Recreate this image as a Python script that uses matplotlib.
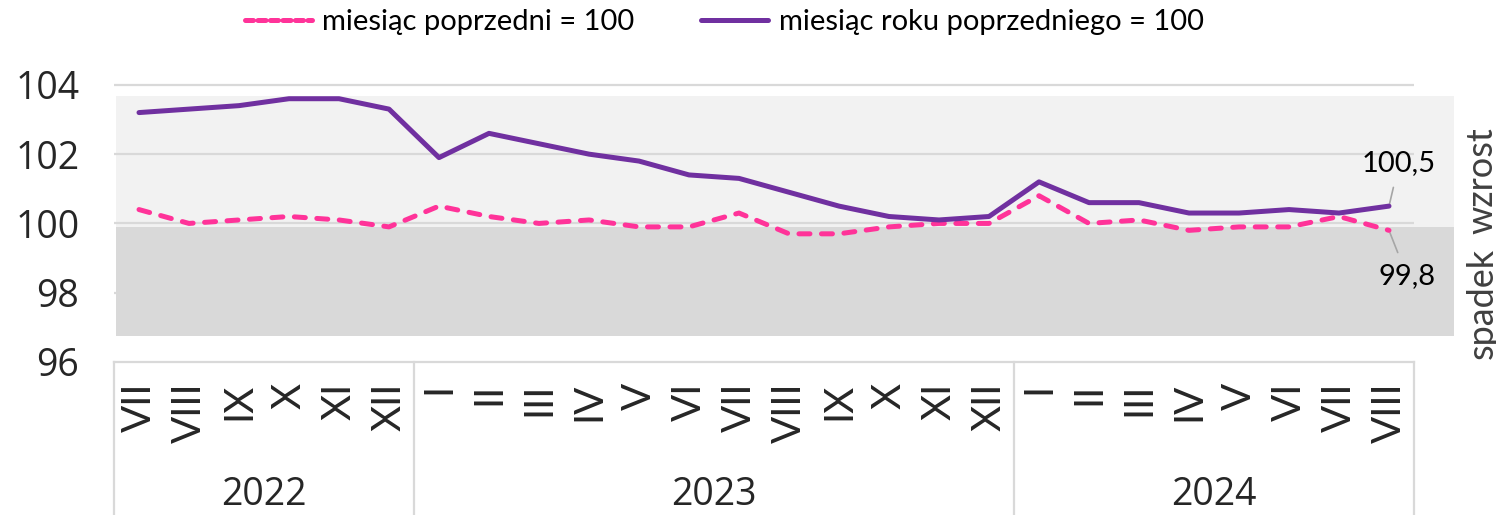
import matplotlib
matplotlib.use("Agg")
import matplotlib.pyplot as plt
from matplotlib.lines import Line2D
import matplotlib.transforms as mtransforms

# --- data ---
months = ["VII", "VIII", "IX", "X", "XI", "XII",
          "I", "II", "III", "IV", "V", "VI", "VII", "VIII", "IX", "X", "XI", "XII",
          "I", "II", "III", "IV", "V", "VI", "VII", "VIII"]
years = ["2022", "2023", "2024"]
months_per_year = [6, 12, 8]

yoy = [103.2, 103.3, 103.4, 103.6, 103.6, 103.3,
       101.9, 102.6, 102.3, 102.0, 101.8, 101.4, 101.3, 100.9, 100.5, 100.2, 100.1, 100.2,
       101.2, 100.6, 100.6, 100.3, 100.3, 100.4, 100.3, 100.5]
mom = [100.4, 100.0, 100.1, 100.2, 100.1, 99.9,
       100.5, 100.2, 100.0, 100.1, 99.9, 99.9, 100.3, 99.7, 99.7, 99.9, 100.0, 100.0,
       100.8, 100.0, 100.1, 99.8, 99.9, 99.9, 100.2, 99.8]

label_mom = "miesiąc poprzedni = 100"
label_yoy = "miesiąc roku poprzedniego = 100"

# background zones (wzrost / spadek)
band_up = (99.9, 103.68)
band_down = (96.75, 99.9)

PINK = "#FF3399"
PURPLE = "#7030A0"
GRID = "#D9D9D9"
TXT = "#262626"

plt.rcParams["font.family"] = ["Lato", "DejaVu Sans"]

W, H = 1496, 515
fig = plt.figure(figsize=(W / 100, H / 100), dpi=100)
ax = fig.add_axes([114 / W, 153 / H, 1340 / W, 291 / H])

n = len(months)
x = list(range(n))
ax.set_xlim(-0.5, 26.3)
ax.set_ylim(96, 104.4)

# bands
ax.fill_between([-0.46, 26.3], band_up[0], band_up[1], color="#F2F2F2", lw=0, zorder=0)
ax.fill_between([-0.46, 26.3], band_down[0], band_down[1], color="#D9D9D9", lw=0, zorder=2)

# grid
ax.hlines([98, 100, 102, 104], -0.5, n - 0.5, color=GRID, lw=1.6, zorder=1)

# series
ax.plot(x, mom, color=PINK, lw=3.6, dashes=(2.2, 2.3), dash_capstyle="round", zorder=4)
ax.plot(x, yoy, color=PURPLE, lw=3.6, solid_capstyle="round", zorder=5)

for s in ax.spines.values():
    s.set_visible(False)

ax.set_yticks([96, 98, 100, 102, 104])
ax.tick_params(axis="y", length=0, pad=25, labelsize=27, labelcolor=TXT)
for t in ax.get_yticklabels():
    t.set_fontfamily(["Open Sans", "DejaVu Sans"])

ax.set_xticks(x)
ax.set_xticklabels(months, rotation=90, fontsize=29, color=TXT)
ax.tick_params(axis="x", length=0, pad=15)

# category axis box
trans = mtransforms.blended_transform_factory(ax.transData, ax.transAxes)
ax.plot([-0.5, n - 0.5], [0, 0], color=GRID, lw=1.6, transform=trans, clip_on=False)
start = -0.5
for cnt, yr in zip(months_per_year, years):
    ax.plot([start, start], [0, -0.53], color=GRID, lw=1.6, transform=trans, clip_on=False)
    ax.text(start + cnt / 2, -0.457, yr, transform=trans, ha="center", va="center",
            fontsize=27, color=TXT, family=["Open Sans", "DejaVu Sans"])
    start += cnt
ax.plot([start, start], [0, -0.53], color=GRID, lw=1.6, transform=trans, clip_on=False)

# data labels
ax.annotate("100,5", xy=(n - 1, yoy[-1]), xytext=(n - 0.8, 101.73), ha="center", va="center",
            fontsize=21, color="black",
            arrowprops=dict(arrowstyle="-", color="#A6A6A6", lw=1.2, shrinkA=6, shrinkB=2))
ax.annotate("99,8", xy=(n - 1, mom[-1]), xytext=(n - 0.64, 98.48), ha="center", va="center",
            fontsize=21, color="black",
            arrowprops=dict(arrowstyle="-", color="#A6A6A6", lw=1.2, shrinkA=6, shrinkB=2))

# right side zone labels
fig.text(1482 / W, 1 - 181 / H, "wzrost", rotation=90, ha="center", va="center",
         fontsize=26, color="#404040")
fig.text(1482 / W, 1 - 303 / H, "spadek", rotation=90, ha="center", va="center",
         fontsize=26, color="#404040")

handles = [Line2D([], [], color=PINK, lw=3.6, dashes=(1.6, 0.9), dash_capstyle="round"),
           Line2D([], [], color=PURPLE, lw=3.6, solid_capstyle="round")]
fig.legend(handles, [label_mom, label_yoy], loc="center", bbox_to_anchor=(0.484, 1 - 22 / H),
           ncol=2, frameon=False, fontsize=21, handlelength=2.3, handletextpad=0.35,
           columnspacing=2.3)

fig.savefig("out.png", dpi=100)
